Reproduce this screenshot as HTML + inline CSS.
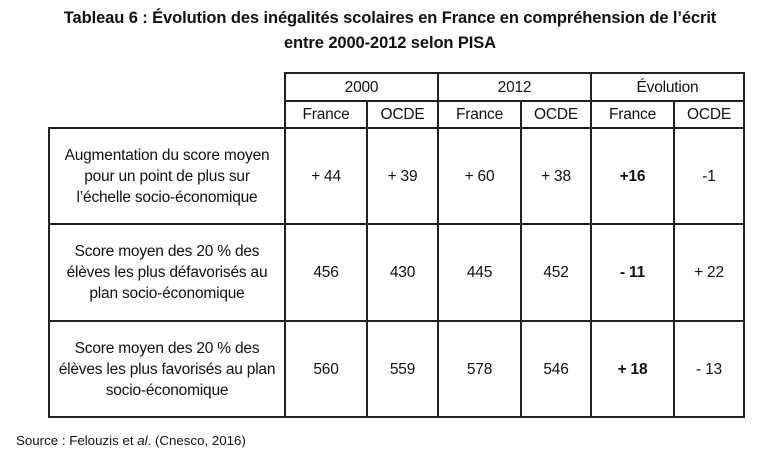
<!DOCTYPE html>
<html><head><meta charset="utf-8"><style>
body{margin:0;width:780px;height:465px;background:#fff;font-family:"Liberation Sans",sans-serif;color:#111;position:relative;overflow:hidden}
.t{position:absolute;left:0;width:780px;text-align:center;font-weight:bold;font-size:16.5px;letter-spacing:-0.1px}
.c{position:absolute;box-sizing:border-box;border:2px solid #222;display:flex;align-items:center;justify-content:center;text-align:center;font-size:15.5px;line-height:21px;letter-spacing:-0.2px}
.src{position:absolute;left:16px;top:433px;font-size:13.3px}
</style></head><body>
<div class="t" style="top:9px">Tableau 6 : Évolution des inégalités scolaires en France en compréhension de l’écrit</div>
<div class="t" style="top:34px">entre 2000-2012 selon PISA</div>

<div class="c" style="left:284px;top:72px;width:155px;height:30px">2000</div>
<div class="c" style="left:437px;top:72px;width:155px;height:30px">2012</div>
<div class="c" style="left:590px;top:72px;width:155px;height:30px">Évolution</div>

<div class="c" style="left:284px;top:100px;width:84px;height:29px">France</div>
<div class="c" style="left:366px;top:100px;width:73px;height:29px">OCDE</div>
<div class="c" style="left:437px;top:100px;width:85px;height:29px">France</div>
<div class="c" style="left:520px;top:100px;width:72px;height:29px">OCDE</div>
<div class="c" style="left:590px;top:100px;width:85px;height:29px">France</div>
<div class="c" style="left:673px;top:100px;width:72px;height:29px">OCDE</div>

<div class="c" style="left:48px;top:127px;width:238px;height:98px">Augmentation du score moyen<br>pour un point de plus sur<br>l’échelle socio-économique</div>
<div class="c" style="left:284px;top:127px;width:84px;height:98px">+ 44</div>
<div class="c" style="left:366px;top:127px;width:73px;height:98px">+ 39</div>
<div class="c" style="left:437px;top:127px;width:85px;height:98px">+ 60</div>
<div class="c" style="left:520px;top:127px;width:72px;height:98px">+ 38</div>
<div class="c" style="left:590px;top:127px;width:85px;height:98px"><b>+16</b></div>
<div class="c" style="left:673px;top:127px;width:72px;height:98px">-1</div>

<div class="c" style="left:48px;top:223px;width:238px;height:99px">Score moyen des 20 % des<br>élèves les plus défavorisés au<br>plan socio-économique</div>
<div class="c" style="left:284px;top:223px;width:84px;height:99px">456</div>
<div class="c" style="left:366px;top:223px;width:73px;height:99px">430</div>
<div class="c" style="left:437px;top:223px;width:85px;height:99px">445</div>
<div class="c" style="left:520px;top:223px;width:72px;height:99px">452</div>
<div class="c" style="left:590px;top:223px;width:85px;height:99px"><b>- 11</b></div>
<div class="c" style="left:673px;top:223px;width:72px;height:99px">+ 22</div>

<div class="c" style="left:48px;top:320px;width:238px;height:98px">Score moyen des 20 % des<br>élèves les plus favorisés au plan<br>socio-économique</div>
<div class="c" style="left:284px;top:320px;width:84px;height:98px">560</div>
<div class="c" style="left:366px;top:320px;width:73px;height:98px">559</div>
<div class="c" style="left:437px;top:320px;width:85px;height:98px">578</div>
<div class="c" style="left:520px;top:320px;width:72px;height:98px">546</div>
<div class="c" style="left:590px;top:320px;width:85px;height:98px"><b>+ 18</b></div>
<div class="c" style="left:673px;top:320px;width:72px;height:98px">- 13</div>

<div class="src">Source : Felouzis et <i>al</i>. (Cnesco, 2016)</div>
</body></html>
